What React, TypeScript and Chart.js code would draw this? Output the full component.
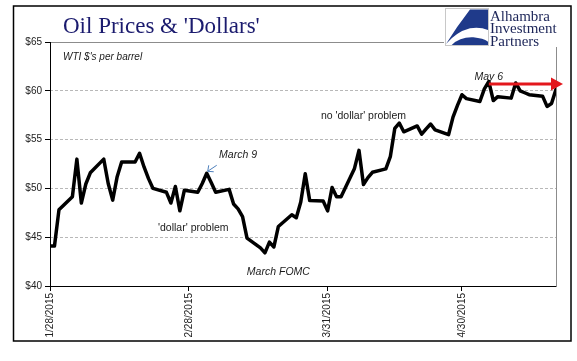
import React, { useEffect, useRef } from "react";
import { Chart, registerables } from "chart.js";

Chart.register(...registerables);

// ---------- data ----------
const tradeDates = [
  "1/28/2015", "1/29/2015", "1/30/2015",
  "2/2/2015", "2/3/2015", "2/4/2015", "2/5/2015", "2/6/2015",
  "2/9/2015", "2/10/2015", "2/11/2015", "2/12/2015", "2/13/2015",
  "2/16/2015", "2/17/2015", "2/18/2015", "2/19/2015", "2/20/2015",
  "2/23/2015", "2/24/2015", "2/25/2015", "2/26/2015", "2/27/2015",
  "3/2/2015", "3/3/2015", "3/4/2015", "3/5/2015", "3/6/2015",
  "3/9/2015", "3/10/2015", "3/11/2015", "3/12/2015", "3/13/2015",
  "3/16/2015", "3/17/2015", "3/18/2015", "3/19/2015", "3/20/2015",
  "3/23/2015", "3/24/2015", "3/25/2015", "3/26/2015", "3/27/2015",
  "3/30/2015", "3/31/2015", "4/1/2015", "4/2/2015", "4/3/2015",
  "4/6/2015", "4/7/2015", "4/8/2015", "4/9/2015", "4/10/2015",
  "4/13/2015", "4/14/2015", "4/15/2015", "4/16/2015", "4/17/2015",
  "4/20/2015", "4/21/2015", "4/22/2015", "4/23/2015", "4/24/2015",
  "4/27/2015", "4/28/2015", "4/29/2015", "4/30/2015", "5/1/2015",
  "5/4/2015", "5/5/2015", "5/6/2015", "5/7/2015", "5/8/2015",
  "5/11/2015", "5/12/2015", "5/13/2015", "5/14/2015", "5/15/2015",
  "5/18/2015", "5/19/2015", "5/20/2015", "5/21/2015",
];

const wtiPrices = [
  44.1, 44.1, 47.8,
  49.15, 53.0, 48.5, 50.45, 51.6,
  53.0, 50.5, 48.8, 51.2, 52.7,
  52.7, 53.6, 52.2, 51.0, 50.0,
  49.6, 48.5, 50.2, 47.7, 49.8,
  49.6, 50.5, 51.55, 50.6, 49.6,
  49.9, 48.4, 47.9, 47.1, 44.9,
  43.9, 43.4, 44.5, 44.0, 46.1,
  47.3, 47.0, 48.6, 51.5, 48.75,
  48.7, 47.7, 50.1, 49.15, 49.15,
  52.05, 53.9, 50.4, 51.1, 51.65,
  52.0, 53.25, 56.15, 56.7, 55.8,
  56.4, 55.55, 56.1, 56.6, 56.0,
  55.5, 57.3, 58.5, 59.6, 59.2,
  58.9, 60.2, 60.95, 59.0, 59.4,
  59.25, 60.8, 60.0, 59.8, 59.6,
  59.45, 58.4, 58.7, 60.15,
];

const xTickLabels = ["1/28/2015", "2/28/2015", "3/31/2015", "4/30/2015"];
const yTickValues = [40, 45, 50, 55, 60, 65];

const titleText = "Oil Prices & 'Dollars'";
const unitText = "WTI $'s per barrel";
const logoLines = ["Alhambra", "Investment", "Partners"];

const notes = [
  { text: "March 9", date: "3/11/2015", value: 53.42, italic: true },
  { text: "'dollar' problem", date: "3/1/2015", value: 45.94, italic: false },
  { text: "March FOMC", date: "3/20/2015", value: 41.43, italic: true },
  { text: "no 'dollar' problem", date: "4/8/2015", value: 57.42, italic: false },
  { text: "May 6", date: "5/6/2015", value: 61.41, italic: true },
];
const arrowFromDate = "5/6/2015";
const arrowValue = 60.7;

// ---------- helpers ----------
const dayMs = 86400000;
function parseDay(s: string): number {
  const [m, d, y] = s.split("/").map(Number);
  return Date.UTC(y, m - 1, d);
}
const t0 = parseDay(tradeDates[0]);
const dayOf = (s: string) => Math.round((parseDay(s) - t0) / dayMs);
const xMax = dayOf(tradeDates[tradeDates.length - 1]);
const tickDays = xTickLabels.map(dayOf);

const SANS = "'Liberation Sans', Arial, sans-serif";
const SERIF = "'Liberation Serif', 'Times New Roman', serif";

const overlayPlugin = {
  id: "overlay",
  beforeDraw(chart: any) {
    const ctx = chart.ctx;
    ctx.save();
    ctx.fillStyle = "#ffffff";
    ctx.fillRect(0, 0, chart.width, chart.height);
    ctx.restore();
  },
  beforeDatasetsDraw(chart: any) {
    const ctx = chart.ctx;
    const a = chart.chartArea;
    ctx.save();
    ctx.setLineDash([]);
    ctx.lineWidth = 1;
    ctx.strokeStyle = "#8c8c8c";
    ctx.beginPath();
    ctx.moveTo(a.left, Math.round(a.top) + 0.5);
    ctx.lineTo(a.right, Math.round(a.top) + 0.5);
    ctx.moveTo(Math.round(a.right) + 0.5, a.top);
    ctx.lineTo(Math.round(a.right) + 0.5, a.bottom);
    ctx.stroke();
    ctx.strokeStyle = "#000";
    ctx.beginPath();
    ctx.moveTo(Math.round(a.left) + 0.5, a.top);
    ctx.lineTo(Math.round(a.left) + 0.5, a.bottom + 0.5);
    ctx.moveTo(a.left, Math.round(a.bottom) + 0.5);
    ctx.lineTo(a.right + 0.5, Math.round(a.bottom) + 0.5);
    ctx.stroke();
    ctx.restore();
  },
  afterDatasetsDraw(chart: any) {
    const ctx = chart.ctx;
    const a = chart.chartArea;
    const xs = chart.scales.x;
    const ys = chart.scales.y;
    ctx.save();

    // unit note
    ctx.fillStyle = "#1a1a1a";
    ctx.font = `italic 10px ${SANS}`;
    ctx.textAlign = "left";
    ctx.textBaseline = "middle";
    ctx.fillText(unitText, a.left + 13, a.top + 15);

    // notes
    notes.forEach((n) => {
      ctx.font = `${n.italic ? "italic " : ""}10.5px ${SANS}`;
      ctx.textAlign = "center";
      ctx.fillStyle = "#1a1a1a";
      ctx.fillText(n.text, xs.getPixelForValue(dayOf(n.date)), ys.getPixelForValue(n.value));
    });

    // blue pointer for March 9
    const tipX = xs.getPixelForValue(dayOf("3/4/2015")) + 1;
    const tipY = ys.getPixelForValue(51.55) - 2;
    ctx.strokeStyle = "#4f81bd";
    ctx.lineWidth = 1;
    ctx.beginPath();
    ctx.moveTo(tipX + 9, tipY - 6);
    ctx.lineTo(tipX, tipY);
    ctx.moveTo(tipX, tipY);
    ctx.lineTo(tipX + 1, tipY - 6);
    ctx.moveTo(tipX, tipY);
    ctx.lineTo(tipX + 6, tipY + 0.5);
    ctx.stroke();

    // red arrow
    const ax0 = xs.getPixelForValue(dayOf(arrowFromDate));
    const ay = ys.getPixelForValue(arrowValue);
    const ax1 = a.right + 7;
    ctx.strokeStyle = "#e3171c";
    ctx.fillStyle = "#e3171c";
    ctx.lineWidth = 3;
    ctx.beginPath();
    ctx.moveTo(ax0, ay);
    ctx.lineTo(ax1 - 8, ay);
    ctx.stroke();
    ctx.beginPath();
    ctx.moveTo(ax1, ay);
    ctx.lineTo(ax1 - 12, ay - 6.5);
    ctx.lineTo(ax1 - 12, ay + 6.5);
    ctx.closePath();
    ctx.fill();

    // title
    ctx.fillStyle = "#1b1b6e";
    ctx.font = `23px ${SERIF}`;
    ctx.textAlign = "left";
    ctx.textBaseline = "alphabetic";
    ctx.fillText(titleText, 63, 33);

    // logo
    ctx.fillStyle = "#ffffff";
    ctx.fillRect(444, 7, 124, 40);
    ctx.strokeStyle = "#c8c8c8";
    ctx.lineWidth = 1;
    ctx.strokeRect(445.5, 8.5, 43, 37);
    ctx.fillStyle = "#1f3a8a";
    ctx.beginPath();
    ctx.moveTo(488, 9.5);
    ctx.lineTo(470, 9.5);
    ctx.quadraticCurveTo(456.7, 26.7, 446, 44);
    ctx.quadraticCurveTo(456.7, 31.7, 470, 28.3);
    ctx.quadraticCurveTo(480, 26.7, 488, 30);
    ctx.closePath();
    ctx.fill();
    ctx.beginPath();
    ctx.moveTo(451.7, 45);
    ctx.quadraticCurveTo(460, 36.7, 473.3, 37.3);
    ctx.quadraticCurveTo(483.3, 38.3, 488, 41.7);
    ctx.lineTo(488, 45);
    ctx.closePath();
    ctx.fill();
    ctx.fillStyle = "#1c2558";
    ctx.font = `15px ${SERIF}`;
    logoLines.forEach((l, i) => ctx.fillText(l, 490, 20.7 + i * 12.7));

    // outer border
    ctx.strokeStyle = "#000";
    ctx.lineWidth = 1.5;
    ctx.strokeRect(13.5, 6, 557.5, 335);
    ctx.restore();
  },
};

export default function App() {
  const ref = useRef<HTMLCanvasElement | null>(null);
  useEffect(() => {
    if (!ref.current) return;
    const chart = new Chart(ref.current, {
      type: "line",
      data: {
        datasets: [
          {
            label: "WTI",
            data: tradeDates.map((d, i) => ({ x: dayOf(d), y: wtiPrices[i] })),
            borderColor: "#000",
            borderWidth: 3.5,
            borderJoinStyle: "round",
            borderCapStyle: "round",
            pointRadius: 0,
            tension: 0,
            fill: false,
          },
        ],
      },
      options: {
        responsive: false,
        animation: false,
        devicePixelRatio: 1,
        layout: { padding: { top: 42, right: 21, left: 0, bottom: 0 } },
        plugins: { legend: { display: false }, tooltip: { enabled: false }, title: { display: false } },
        scales: {
          x: {
            type: "linear",
            min: 0,
            max: xMax,
            afterBuildTicks: (s: any) => {
              s.ticks = tickDays.map((v) => ({ value: v }));
            },
            afterFit: (s: any) => {
              s.height = 75;
            },
            grid: { drawOnChartArea: false, drawTicks: true, tickLength: 5, tickColor: "#000", color: "#000" },
            border: { display: false },
            ticks: {
              autoSkip: false,
              minRotation: 90,
              maxRotation: 90,
              padding: 2,
              color: "#222",
              font: { size: 10, family: SANS },
              callback: (v: any) => {
                const i = tickDays.indexOf(Number(v));
                return i >= 0 ? xTickLabels[i] : "";
              },
            },
          },
          y: {
            min: 40,
            max: 65,
            afterBuildTicks: (s: any) => {
              s.ticks = yTickValues.map((v) => ({ value: v }));
            },
            afterFit: (s: any) => {
              s.width = 50;
            },
            grid: { color: "#b8b8b8", lineWidth: 1, tickLength: 5, tickColor: "#000", tickBorderDash: [] },
            border: { display: false, dash: [3, 2] },
            ticks: {
              padding: 3,
              color: "#222",
              font: { size: 10, family: SANS },
              callback: (v: any) => "$" + v,
            },
          },
        },
      },
      plugins: [overlayPlugin],
    } as any);
    return () => chart.destroy();
  }, []);
  return (
    <div style={{ position: "fixed", left: 0, top: 0, width: 577, height: 361, background: "#fff" }}>
      <canvas ref={ref} width={577} height={361} style={{ width: 577, height: 361, display: "block" }} />
    </div>
  );
}
